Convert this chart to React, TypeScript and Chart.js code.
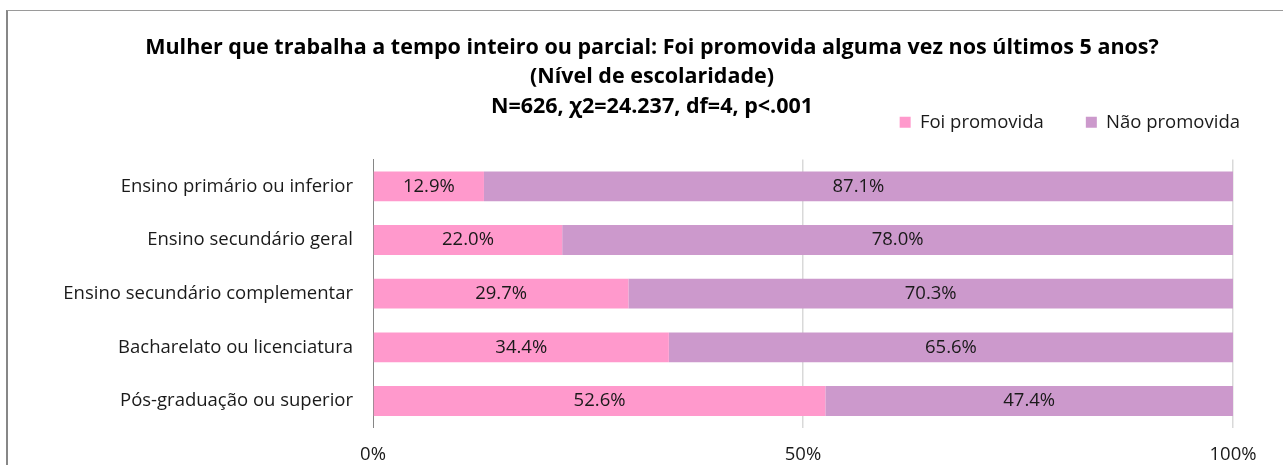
import React, { useEffect, useRef } from "react";
import { Chart, registerables } from "chart.js";

Chart.register(...registerables);

const categories = [
  "Ensino primário ou inferior",
  "Ensino secundário geral",
  "Ensino secundário complementar",
  "Bacharelato ou licenciatura",
  "Pós-graduação ou superior",
];
const seriesNames = ["Foi promovida", "Não promovida"];
const promovida = [12.9, 22.0, 29.7, 34.4, 52.6];
const naoPromovida = [87.1, 78.0, 70.3, 65.6, 47.4];
const xTickValues = [0, 50, 100];
const titleLines = [
  "Mulher que trabalha a tempo inteiro ou parcial: Foi promovida alguma vez nos últimos 5 anos?",
  "(Nível de escolaridade)",
  "N=626, χ2=24.237, df=4, p<.001",
];

const FONT = "'Open Sans'";
const LABEL_SIZE = 18.5;
const PINK = "#FF99CC";
const PURPLE = "#CC99CC";

const dataLabels = {
  id: "dataLabels",
  afterDatasetsDraw(chart: any) {
    const ctx = chart.ctx;
    ctx.save();
    ctx.font = `${LABEL_SIZE}px ${FONT}`;
    ctx.fillStyle = "#1a1a1a";
    ctx.textAlign = "center";
    ctx.textBaseline = "middle";
    chart.data.datasets.forEach((ds: any, di: number) => {
      const meta = chart.getDatasetMeta(di);
      meta.data.forEach((el: any, i: number) => {
        const p = el.getProps(["x", "y", "base"], true);
        const cx = (p.x + p.base) / 2;
        ctx.fillText(Number(ds.data[i]).toFixed(1) + "%", cx, p.y);
      });
    });
    ctx.restore();
  },
};

export default function App() {
  const ref = useRef<HTMLCanvasElement>(null);

  useEffect(() => {
    if (!ref.current) return;
    const chart = new Chart(ref.current, {
      type: "bar",
      data: {
        labels: categories,
        datasets: [
          {
            label: seriesNames[0],
            data: promovida,
            backgroundColor: PINK,
            borderWidth: 0,
            barPercentage: 0.556,
            categoryPercentage: 1,
          },
          {
            label: seriesNames[1],
            data: naoPromovida,
            backgroundColor: PURPLE,
            borderWidth: 0,
            barPercentage: 0.556,
            categoryPercentage: 1,
          },
        ],
      },
      options: {
        indexAxis: "y",
        animation: false,
        responsive: false,
        devicePixelRatio: 1,
        layout: { padding: { left: 14, right: 6, top: 0, bottom: 11 } },
        plugins: {
          title: {
            display: true,
            text: titleLines,
            color: "#000",
            font: { family: FONT, size: 21.5, weight: "bold", lineHeight: "29.5px" },
            padding: { top: 22, bottom: -50.5 },
          },
          legend: {
            display: true,
            position: "top",
            align: "end",
            labels: {
              color: "#1a1a1a",
              font: { family: FONT, size: LABEL_SIZE },
              boxWidth: 11,
              boxHeight: 11,
              padding: 42,
            },
          },
          tooltip: { enabled: false },
        },
        scales: {
          x: {
            type: "linear",
            stacked: true,
            min: 0,
            max: 100,
            afterBuildTicks: (s: any) => {
              s.ticks = xTickValues.map((v) => ({ value: v }));
            },
            afterFit: (s: any) => {
              s.paddingRight = 55;
              s.paddingLeft = 0;
            },
            grid: {
              color: (c: any) => (c.index === 0 ? "rgba(0,0,0,0)" : "#D9D9D9"),
              lineWidth: 1.5,
              drawTicks: false,
            },
            border: { display: false },
            ticks: {
              padding: 16,
              color: "#1a1a1a",
              font: { family: FONT, size: LABEL_SIZE },
              callback: (v: any) => v + "%",
            },
          },
          xTop: {
            type: "linear",
            axis: "x",
            position: "top",
            display: true,
            grid: { display: false, drawTicks: false },
            border: { display: false },
            ticks: { display: false },
            afterFit: (s: any) => {
              s.height = 18;
            },
          },
          y: {
            stacked: true,
            grid: { display: false, drawTicks: false },
            border: { display: true, color: "#868686", width: 1 },
            afterFit: (s: any) => {
              s.width = 351;
            },
            ticks: {
              padding: 20,
              color: "#1a1a1a",
              font: { family: FONT, size: LABEL_SIZE },
            },
          },
        },
      },
      plugins: [dataLabels],
    } as any);
    return () => chart.destroy();
  }, []);

  return (
    <div
      style={{
        position: "fixed",
        left: 0,
        top: 0,
        right: 0,
        bottom: 0,
        overflow: "hidden",
        background: "#fff",
      }}
    >
      <div
        style={{
          position: "absolute",
          left: 6,
          top: 10,
          width: 1400,
          height: 600,
          borderLeft: "2px solid #878787",
          borderTop: "1px solid #9a9a9a",
        }}
      >
        <canvas ref={ref} width={1280} height={482} style={{ display: "block" }} />
      </div>
    </div>
  );
}
